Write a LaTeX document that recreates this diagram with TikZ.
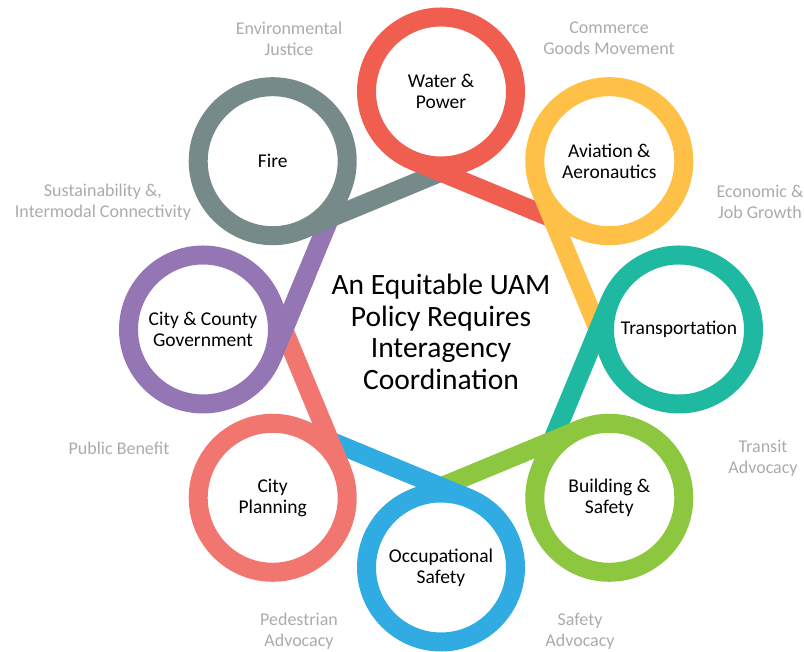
\documentclass[tikz,border=0pt]{standalone}
\usepackage{fontspec}
\setmainfont{Carlito}
\usetikzlibrary{calc}
\definecolor{cRed}{HTML}{F05E50}
\definecolor{cYellow}{HTML}{FEC046}
\definecolor{cTeal}{HTML}{1EB9A0}
\definecolor{cGreen}{HTML}{8DC63F}
\definecolor{cBlue}{HTML}{30ACE2}
\definecolor{cPink}{HTML}{F17670}
\definecolor{cPurple}{HTML}{9576B4}
\definecolor{cSlate}{HTML}{768A8A}
\definecolor{cLabel}{HTML}{ABABAB}
\begin{document}
\begin{tikzpicture}[x=1pt,y=1pt,
  ringnode/.style={circle, line width=19pt, minimum size=149pt, inner sep=0pt, fill=white,
    align=center, font=\fontsize{19.5}{21}\selectfont, text=black},
  tail/.style={line width=19pt, line cap=butt},
  glabel/.style={align=center, font=\fontsize{18}{21}\selectfont, text=cLabel},
  title/.style={align=center, font=\fontsize{29.5}{31.5}\selectfont, text=black}]
\useasboundingbox (0,0) rectangle (804,652);
\clip (0,0) rectangle (804,652);
\coordinate (O) at (441,322.5);
% ring centres
\coordinate (cW) at ($(O)+(90:238)$);
\coordinate (cA) at ($(O)+(45:238)$);
\coordinate (cT) at ($(O)+(0:238)$);
\coordinate (cB) at ($(O)+(-45:238)$);
\coordinate (cO) at ($(O)+(-90:238)$);
\coordinate (cP) at ($(O)+(-135:238)$);
\coordinate (cC) at ($(O)+(180:238)$);
\coordinate (cF) at ($(O)+(135:238)$);
% tangent points of the tails
\coordinate (sW) at ($(cW)+(247.5:74.5)$); \coordinate (eW) at ($(cA)+(247.5:74.5)$);
\coordinate (sA) at ($(cA)+(202.5:74.5)$); \coordinate (eA) at ($(cT)+(202.5:74.5)$);
\coordinate (sT) at ($(cT)+(157.5:74.5)$); \coordinate (eT) at ($(cB)+(157.5:74.5)$);
\coordinate (sB) at ($(cB)+(112.5:74.5)$); \coordinate (eB) at ($(cO)+(112.5:74.5)$);
\coordinate (sO) at ($(cO)+(67.5:74.5)$);  \coordinate (eO) at ($(cP)+(67.5:74.5)$);
\coordinate (sP) at ($(cP)+(22.5:74.5)$);  \coordinate (eP) at ($(cC)+(22.5:74.5)$);
\coordinate (sC) at ($(cC)+(-22.5:74.5)$); \coordinate (eC) at ($(cF)+(-22.5:74.5)$);
\coordinate (sF) at ($(cF)+(-67.5:74.5)$); \coordinate (eF) at ($(cW)+(-67.5:74.5)$);
\coordinate (mC) at ($(sC)!0.5!(eC)$);
% tails
\draw[tail, cPurple] (sC) -- (eC);
\draw[tail, cSlate] (sF) -- (eF);
\draw[tail, cRed] (sW) -- (eW);
\draw[tail, cYellow] (sA) -- (eA);
\draw[tail, cTeal] (sT) -- (eT);
\draw[tail, cGreen] (sB) -- (eB);
\draw[tail, cBlue] (sO) -- (eO);
\draw[tail, cPink] (sP) -- (eP);
\draw[tail, cPurple] (sC) -- (mC);
% rings
\node[ringnode, draw=cRed] (nW) at (cW) {Water \&\\Power};
\node[ringnode, draw=cYellow] (nA) at (cA) {Aviation \&\\Aeronautics};
\node[ringnode, draw=cTeal] (nT) at (cT) {Transportation};
\node[ringnode, draw=cGreen] (nB) at (cB) {Building \&\\Safety};
\node[ringnode, draw=cBlue] (nO) at (cO) {Occupational\\Safety};
\node[ringnode, draw=cPink] (nP) at (cP) {City\\Planning};
\node[ringnode, draw=cPurple] (nC) at (cC) {City \& County\\Government};
\node[ringnode, draw=cSlate] (nF) at (cF) {Fire};
% centre title
\node[title] (ttl) at (441,320) {An Equitable UAM\\Policy Requires\\Interagency\\Coordination};
% grey labels
\node[glabel] (l1) at (289,613.5) {Environmental\\Justice};
\node[glabel] (l2) at (609,613.5) {Commerce\\Goods Movement};
\node[glabel] (l3) at (760,450.5) {Economic \&\\Job Growth};
\node[glabel] (l4) at (103,449.5) {Sustainability \&,\\Intermodal Connectivity};
\node[glabel] (l5) at (119,204) {Public Benefit};
\node[glabel] (l6) at (763,194) {Transit\\Advocacy};
\node[glabel] (l7) at (299,21) {Pedestrian\\Advocacy};
\node[glabel] (l8) at (580,21) {Safety\\Advocacy};
\end{tikzpicture}
\end{document}
